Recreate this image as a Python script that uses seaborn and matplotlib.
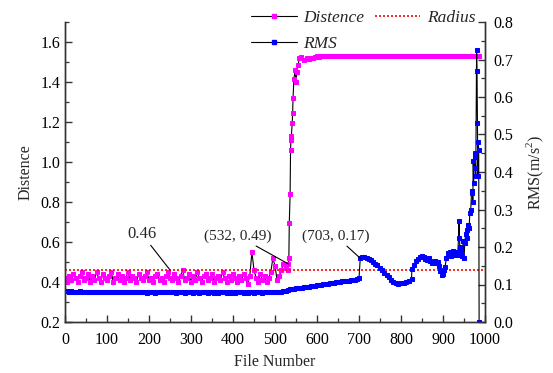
import matplotlib
matplotlib.use("Agg")
import matplotlib.pyplot as plt
from matplotlib.lines import Line2D
from matplotlib.ticker import MultipleLocator, FormatStrFormatter
import seaborn as sns
import pandas as pd

# ---- Distance to target (left axis) ----
dist_file = [
    0, 5, 10, 15, 20, 25, 30, 35, 40, 45,
    50, 55, 60, 65, 70, 75, 80, 85, 90, 95,
    100, 105, 110, 115, 120, 125, 130, 135, 140, 145,
    150, 155, 160, 165, 170, 175, 180, 185, 190, 195,
    200, 205, 210, 215, 220, 225, 230, 235, 240, 245,
    250, 255, 260, 265, 270, 275, 280, 285, 290, 295,
    300, 305, 310, 315, 320, 325, 330, 335, 340, 345,
    350, 355, 360, 365, 370, 375, 380, 385, 390, 395,
    400, 405, 410, 415, 420, 425, 430, 435, 440, 445,
    450, 455, 460, 465, 470, 475, 480, 485, 490, 495,
    500, 505, 510, 515, 520, 525, 530,
    532, 533, 534, 536, 537, 538, 539, 541, 542, 543, 545, 548, 550, 552,
    555, 558, 563, 570, 575, 580, 585, 590, 595, 600, 605, 610,
    615, 620, 625, 630, 635, 640, 645, 650, 655, 660,
    665, 670, 675, 680, 685, 690, 695, 700, 705, 710,
    715, 720, 725, 730, 735, 740, 745, 750, 755, 760,
    765, 770, 775, 780, 785, 790, 795, 800, 805, 810,
    815, 820, 825, 830, 835, 840, 845, 850, 855, 860,
    865, 870, 875, 880, 885, 890, 895, 900, 905, 910,
    915, 920, 925, 930, 935, 940, 945, 950, 955, 960,
    965, 970, 975, 980, 985,
]
distance = [
    0.42, 0.40, 0.43, 0.41, 0.44, 0.42, 0.40, 0.43, 0.45, 0.41,
    0.42, 0.44, 0.40, 0.43, 0.41, 0.45, 0.42, 0.40, 0.44, 0.42,
    0.41, 0.43, 0.45, 0.40, 0.42, 0.44, 0.41, 0.43, 0.40, 0.42,
    0.45, 0.41, 0.43, 0.42, 0.40, 0.44, 0.42, 0.41, 0.43, 0.45,
    0.41, 0.42, 0.40, 0.43, 0.44, 0.41, 0.42, 0.40, 0.43, 0.45,
    0.42, 0.41, 0.44, 0.42, 0.40, 0.43, 0.46, 0.41, 0.42, 0.44,
    0.40, 0.43, 0.41, 0.45, 0.42, 0.40, 0.43, 0.44, 0.41, 0.42,
    0.44, 0.40, 0.42, 0.43, 0.41, 0.45, 0.42, 0.40, 0.43, 0.41,
    0.44, 0.42, 0.40, 0.43, 0.41, 0.44, 0.42, 0.39, 0.43, 0.55,
    0.46, 0.42, 0.40, 0.44, 0.41, 0.43, 0.40, 0.42, 0.45, 0.52,
    0.48, 0.41, 0.43, 0.46, 0.49, 0.47, 0.46,
    0.49, 0.52, 0.695, 0.84, 1.06, 1.11, 1.13, 1.195, 1.245, 1.32, 1.415, 1.46, 1.40, 1.45,
    1.485, 1.52, 1.525, 1.51, 1.52, 1.515, 1.52, 1.52, 1.525, 1.53, 1.525, 1.53,
    1.53, 1.53, 1.53, 1.53, 1.53, 1.53, 1.53, 1.53, 1.53, 1.53,
    1.53, 1.53, 1.53, 1.53, 1.53, 1.53, 1.53, 1.53, 1.53, 1.53,
    1.53, 1.53, 1.53, 1.53, 1.53, 1.53, 1.53, 1.53, 1.53, 1.53,
    1.53, 1.53, 1.53, 1.53, 1.53, 1.53, 1.53, 1.53, 1.53, 1.53,
    1.53, 1.53, 1.53, 1.53, 1.53, 1.53, 1.53, 1.53, 1.53, 1.53,
    1.53, 1.53, 1.53, 1.53, 1.53, 1.53, 1.53, 1.53, 1.53, 1.53,
    1.53, 1.53, 1.53, 1.53, 1.53, 1.53, 1.53, 1.53, 1.53, 1.53,
    1.53, 1.53, 1.53, 1.53, 1.53,
]

# ---- RMS acceleration (right axis) ----
rms_file = [
    0, 5, 10, 15, 20, 25, 30, 35, 40, 45,
    50, 55, 60, 65, 70, 75, 80, 85, 90, 95,
    100, 105, 110, 115, 120, 125, 130, 135, 140, 145,
    150, 155, 160, 165, 170, 175, 180, 185, 190, 195,
    200, 205, 210, 215, 220, 225, 230, 235, 240, 245,
    250, 255, 260, 265, 270, 275, 280, 285, 290, 295,
    300, 305, 310, 315, 320, 325, 330, 335, 340, 345,
    350, 355, 360, 365, 370, 375, 380, 385, 390, 395,
    400, 405, 410, 415, 420, 425, 430, 435, 440, 445,
    450, 455, 460, 465, 470, 475, 480, 485, 490, 495,
    500, 505, 510, 515, 520, 525, 530, 535, 540, 545,
    550, 555, 560, 565, 570, 575, 580, 585, 590, 595,
    600, 605, 610, 615, 620, 625, 630, 635, 640, 645,
    650, 655, 660, 665, 670, 675, 680, 685, 690, 695,
    700, 703, 708, 713, 718, 723, 728, 733, 738, 743,
    750, 755, 760, 766, 771, 776, 781, 787, 793, 800,
    806, 813, 819, 825, 826, 830, 835, 840, 845, 849,
    854, 858, 862, 866, 870, 874, 877, 881, 885, 888,
    891, 894, 897, 900, 903, 905, 908, 911, 914, 917,
    920, 923, 926, 929, 932, 935, 937, 938, 940, 943,
    946, 948, 950, 952, 954, 956, 958, 960, 962, 964,
    966, 968, 970, 971, 972, 973, 975, 976, 977, 978,
    980, 981, 982, 983, 984, 985, 986,
]
rms = [
    0.083, 0.082, 0.081, 0.082, 0.081, 0.080, 0.081, 0.082, 0.081, 0.080,
    0.081, 0.080, 0.081, 0.080, 0.079, 0.080, 0.081, 0.080, 0.079, 0.080,
    0.080, 0.079, 0.080, 0.081, 0.080, 0.079, 0.080, 0.080, 0.079, 0.080,
    0.080, 0.079, 0.080, 0.079, 0.080, 0.080, 0.079, 0.080, 0.079, 0.078,
    0.079, 0.080, 0.079, 0.078, 0.079, 0.080, 0.079, 0.079, 0.080, 0.079,
    0.079, 0.080, 0.079, 0.078, 0.079, 0.080, 0.079, 0.078, 0.079, 0.080,
    0.079, 0.078, 0.079, 0.079, 0.078, 0.079, 0.080, 0.079, 0.078, 0.079,
    0.079, 0.078, 0.079, 0.078, 0.079, 0.080, 0.079, 0.078, 0.079, 0.078,
    0.079, 0.078, 0.079, 0.080, 0.079, 0.078, 0.079, 0.078, 0.079, 0.079,
    0.078, 0.079, 0.080, 0.079, 0.078, 0.079, 0.080, 0.079, 0.080, 0.079,
    0.080, 0.081, 0.080, 0.081, 0.082, 0.084, 0.086, 0.087, 0.088, 0.089,
    0.090, 0.091, 0.091, 0.092, 0.093, 0.094, 0.094, 0.095, 0.096, 0.097,
    0.098, 0.099, 0.100, 0.101, 0.101, 0.102, 0.103, 0.104, 0.105, 0.106,
    0.107, 0.108, 0.109, 0.109, 0.110, 0.110, 0.111, 0.112, 0.113, 0.115,
    0.117, 0.170, 0.174, 0.173, 0.172, 0.169, 0.165, 0.160, 0.155, 0.151,
    0.144, 0.138, 0.132, 0.125, 0.119, 0.113, 0.107, 0.103, 0.101, 0.103,
    0.105, 0.107, 0.110, 0.114, 0.141, 0.152, 0.162, 0.168, 0.174, 0.176,
    0.174, 0.168, 0.166, 0.170, 0.162, 0.158, 0.157, 0.163, 0.158, 0.160,
    0.150, 0.135, 0.125, 0.128, 0.140, 0.147, 0.170, 0.185, 0.179, 0.188,
    0.176, 0.190, 0.183, 0.178, 0.186, 0.180, 0.225, 0.270, 0.200, 0.190,
    0.175, 0.215, 0.170, 0.212, 0.235, 0.245, 0.225, 0.260, 0.250, 0.290,
    0.300, 0.345, 0.350, 0.320, 0.430, 0.370, 0.440, 0.410, 0.450, 0.390,
    0.725, 0.670, 0.530, 0.390, 0.480, 0.460, 0.000,
]

radius = 0.46

dist_df = pd.DataFrame({"file": dist_file, "distance": distance})
rms_df = pd.DataFrame({"file": rms_file, "rms": rms})

sns.set_theme(style="ticks")
plt.rcParams["font.family"] = ["Liberation Serif", "DejaVu Serif"]
plt.rcParams["mathtext.fontset"] = "custom"
plt.rcParams["mathtext.rm"] = "Liberation Serif"
plt.rcParams["axes.edgecolor"] = "#333333"
plt.rcParams["axes.linewidth"] = 1.0

fig = plt.figure(figsize=(5.53, 3.73), dpi=100)
ax = fig.add_axes([65 / 553, 51 / 373, 420 / 553, 300 / 373])
ax2 = ax.twinx()

msize = 3.0
sns.lineplot(data=dist_df, x="file", y="distance", ax=ax, estimator=None,
             sort=False, color="black", linewidth=0.8, marker="s",
             markersize=msize, markerfacecolor="#ff00ff",
             markeredgecolor="#ff00ff", legend=False)
ax.axhline(radius, color="red", linestyle=(0, (1.2, 1.2)), linewidth=1.2)

sns.lineplot(data=rms_df, x="file", y="rms", ax=ax2, estimator=None,
             sort=False, color="black", linewidth=0.8, marker="s",
             markersize=msize, markerfacecolor="#0000ff",
             markeredgecolor="#0000ff", legend=False)

ax.set_xlim(0, 1000)
ax.set_ylim(0.2, 1.7)
ax2.set_ylim(0.0, 0.8)

ax.xaxis.set_major_locator(MultipleLocator(100))
ax.xaxis.set_minor_locator(MultipleLocator(50))
ax.yaxis.set_major_locator(MultipleLocator(0.2))
ax.yaxis.set_minor_locator(MultipleLocator(0.1))
ax.yaxis.set_major_formatter(FormatStrFormatter("%.1f"))
ax2.yaxis.set_major_locator(MultipleLocator(0.1))
ax2.yaxis.set_minor_locator(MultipleLocator(0.05))
ax2.yaxis.set_major_formatter(FormatStrFormatter("%.1f"))

for a in (ax, ax2):
    a.spines["top"].set_visible(False)
    a.tick_params(which="major", direction="in", length=5, width=1.0,
                  labelsize=11.5, colors="#333333", labelcolor="black")
    a.tick_params(which="minor", direction="in", length=3, width=0.9,
                  colors="#333333")
ax.tick_params(axis="y", which="both", right=False)
ax.tick_params(axis="x", which="major", pad=7)
ax2.tick_params(axis="y", which="both", left=False)
ax2.tick_params(axis="y", which="major", pad=6)

ax.set_xlabel("File Number", fontsize=11.5, labelpad=4.5)
ax.set_ylabel("Distence", fontsize=11.5, labelpad=5)
ax2.set_ylabel(r"RMS(m/s$^{2}$)", fontsize=11.5, labelpad=8)

arrow = dict(arrowstyle="-", color="black", linewidth=0.8, shrinkA=0, shrinkB=0)
ax.annotate("0.46", xy=(250, radius), xytext=(183, 0.64), fontsize=12,
            ha="center", va="center", arrowprops=arrow)
ax.annotate("(532, 0.49)", xy=(532, 0.49), xytext=(412, 0.63), fontsize=11,
            ha="center", va="center", arrowprops=arrow)
ax2.annotate("(703, 0.17)", xy=(703, 0.17), xytext=(645, 0.229), fontsize=11,
             ha="center", va="center", arrowprops=arrow, zorder=5)

handles = [
    Line2D([], [], color="black", linewidth=0.8, marker="s", markersize=msize,
           markerfacecolor="#ff00ff", markeredgecolor="#ff00ff"),
    Line2D([], [], color="black", linewidth=0.8, marker="s", markersize=msize,
           markerfacecolor="#0000ff", markeredgecolor="#0000ff"),
    Line2D([], [], color="red", linestyle=(0, (1.2, 1.2)), linewidth=1.2),
]
labels = ["Distence", "RMS", "Radius"]
fig.legend(handles, labels, ncol=2, loc="upper left",
           bbox_to_anchor=(248 / 553, 0.984), frameon=False,
           prop={"style": "italic", "size": 12.5}, numpoints=1,
           handlelength=2.6, handletextpad=0.4, columnspacing=0.6,
           labelspacing=0.57, borderaxespad=0.0, borderpad=0.2)

fig.savefig("out.png", dpi=100)
